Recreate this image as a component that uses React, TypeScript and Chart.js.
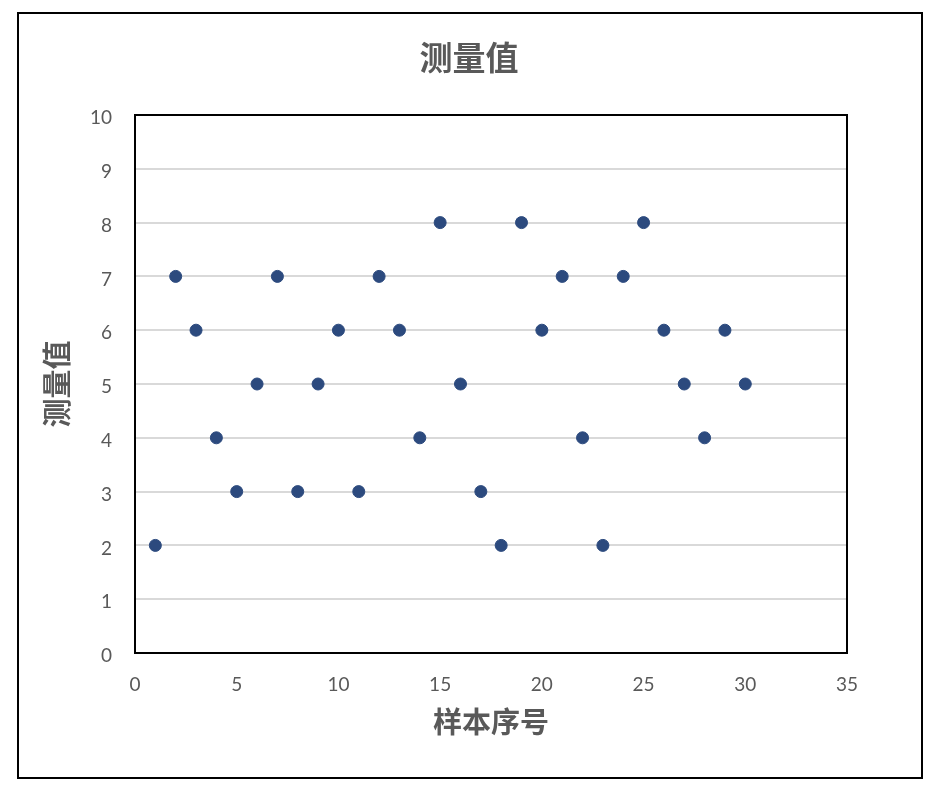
import React, { useEffect, useRef } from "react";
import { Chart, registerables } from "chart.js";

Chart.register(...registerables);

// sample index and measured value
const sampleNo = [1, 2, 3, 4, 5, 6, 7, 8, 9, 10, 11, 12, 13, 14, 15, 16, 17, 18, 19, 20, 21, 22, 23, 24, 25, 26, 27, 28, 29, 30];
const measured = [2, 7, 6, 4, 3, 5, 7, 3, 5, 6, 3, 7, 6, 4, 8, 5, 3, 2, 8, 6, 7, 4, 2, 7, 8, 6, 5, 4, 6, 5];

const chartTitle = "测量值";
const xTitle = "样本序号";
const yTitle = "测量值";

const GRAY = "#595959";
const CJK = "'Noto Sans CJK SC', sans-serif";
const NUM = "Lato, 'Open Sans', sans-serif";

const App: React.FC = () => {
  const canvasRef = useRef<HTMLCanvasElement | null>(null);

  useEffect(() => {
    document.body.style.margin = "0";
    if (!canvasRef.current) return;
    const ctx = canvasRef.current.getContext("2d");
    if (!ctx) return;

    const chart = new Chart(ctx, {
      type: "scatter",
      data: {
        datasets: [
          {
            label: chartTitle,
            data: sampleNo.map((x, i) => ({ x, y: measured[i] })),
            backgroundColor: "#2c4a7e",
            borderColor: "#2c4a7e",
            pointRadius: 6,
            pointHoverRadius: 6,
            showLine: false,
          },
        ],
      },
      options: {
        responsive: false,
        animation: false,
        layout: { padding: { left: 0, right: 0, top: 0, bottom: 35 } },
        plugins: {
          legend: { display: false },
          tooltip: { enabled: false },
          title: {
            display: true,
            text: chartTitle,
            color: GRAY,
            font: { family: CJK, size: 33, weight: "bold", lineHeight: 1.2 },
            padding: { top: 38, bottom: 37.4 },
          },
        },
        scales: {
          x: {
            type: "linear",
            min: 0,
            max: 35,
            afterFit: (scale) => {
              scale.height = 100;
            },
            ticks: { stepSize: 5, color: GRAY, font: { family: NUM, size: 19 }, padding: 20 },
            grid: { display: false, drawTicks: false },
            border: { display: false },
            title: {
              display: true,
              text: xTitle,
              color: GRAY,
              font: { family: CJK, size: 29, weight: "bold", lineHeight: 1.2 },
              padding: { top: 0, bottom: 13.6 },
            },
          },
          y: {
            min: 0,
            max: 10,
            afterFit: (scale) => {
              scale.width = 135;
            },
            ticks: { stepSize: 1, color: GRAY, font: { family: NUM, size: 19 }, padding: 23, labelOffset: 3 },
            grid: { color: "#d9d9d9", lineWidth: 2, drawTicks: false },
            border: { display: false },
            title: {
              display: true,
              text: yTitle,
              color: GRAY,
              font: { family: CJK, size: 29, weight: "bold", lineHeight: 1.2 },
              padding: { top: 40, bottom: 0 },
            },
          },
          // empty right-hand spacer so the plot ends where the reference does
          yRight: {
            position: "right",
            min: 0,
            max: 10,
            afterFit: (scale) => {
              scale.width = 91;
            },
            ticks: { display: false },
            grid: { display: false, drawTicks: false },
            border: { display: false },
          },
        },
      },
      plugins: [
        {
          id: "frames",
          beforeDatasetsDraw: (c) => {
            const { ctx: g, chartArea } = c;
            g.save();
            g.strokeStyle = "#000";
            g.lineWidth = 2;
            g.strokeRect(chartArea.left, chartArea.top, chartArea.right - chartArea.left, chartArea.bottom - chartArea.top);
            g.strokeRect(18, 13, 904, 765);
            g.restore();
          },
        },
      ],
    });

    return () => {
      chart.destroy();
    };
  }, []);

  return <canvas ref={canvasRef} width={938} height={788} style={{ display: "block" }}></canvas>;
};

export default App;
